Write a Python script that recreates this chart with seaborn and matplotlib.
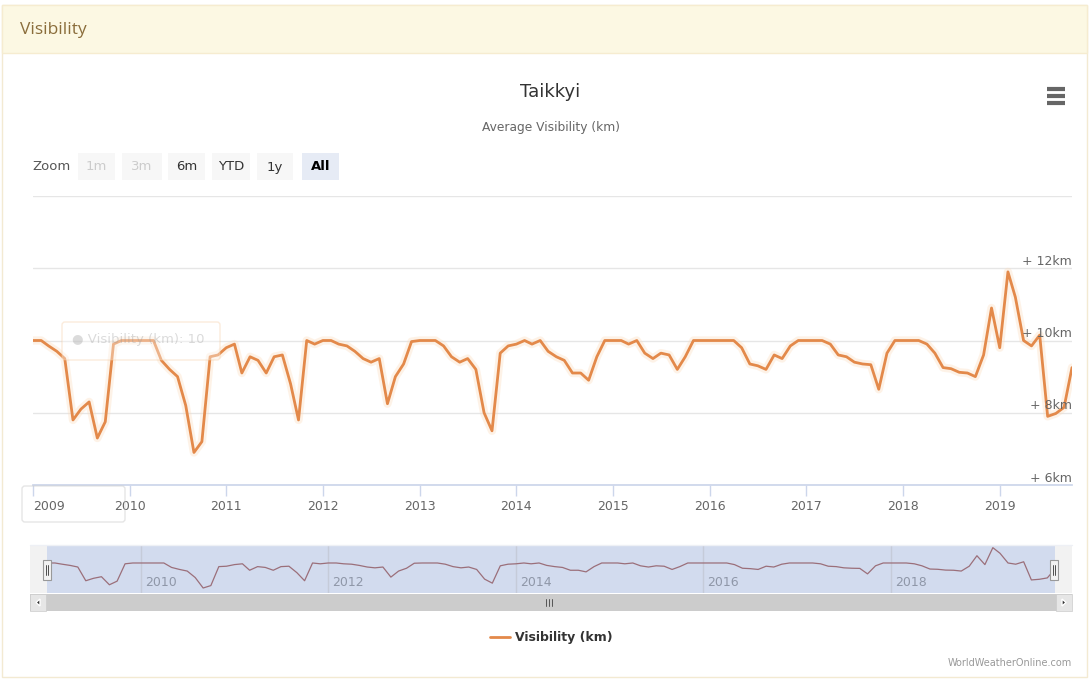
import numpy as np
import pandas as pd
import seaborn as sns
import matplotlib.pyplot as plt
import matplotlib.dates as mdates
from matplotlib.patches import Rectangle, FancyBboxPatch, Polygon

# monthly average visibility (km), Jan 2009 - Oct 2019
visibility = [
    10.0, 10.0, 9.85, 9.7, 9.5, 7.8, 8.1, 8.3, 7.3, 7.75, 9.9, 10.0,     # 2009
    10.0, 10.0, 10.0, 10.0, 9.45, 9.2, 9.0, 8.2, 6.9, 7.2, 9.55, 9.6,    # 2010
    9.8, 9.9, 9.1, 9.55, 9.45, 9.1, 9.55, 9.6, 8.8, 7.8, 10.0, 9.9,      # 2011
    10.0, 10.0, 9.9, 9.85, 9.7, 9.5, 9.4, 9.5, 8.25, 9.0, 9.35, 9.97,    # 2012
    10.0, 10.0, 10.0, 9.85, 9.55, 9.4, 9.5, 9.2, 8.0, 7.5, 9.65, 9.85,   # 2013
    9.9, 10.0, 9.9, 10.0, 9.7, 9.55, 9.45, 9.1, 9.1, 8.9, 9.55, 10.0,    # 2014
    10.0, 10.0, 9.9, 10.0, 9.65, 9.5, 9.65, 9.6, 9.2, 9.55, 10.0, 10.0,  # 2015
    10.0, 10.0, 10.0, 10.0, 9.8, 9.35, 9.3, 9.2, 9.6, 9.5, 9.85, 10.0,   # 2016
    10.0, 10.0, 10.0, 9.9, 9.6, 9.55, 9.4, 9.35, 9.33, 8.65, 9.65, 10.0, # 2017
    10.0, 10.0, 10.0, 9.9, 9.65, 9.25, 9.22, 9.12, 9.1, 9.0, 9.6, 10.9,  # 2018
    9.8, 11.9, 11.2, 10.0, 9.85, 10.15, 7.9, 7.98, 8.15, 9.25,           # 2019
]
months = pd.date_range('2009-01-01', periods=len(visibility), freq='MS')
y_ticks = [6, 8, 10, 12]
y_tick_labels = ['+ 6km', '+ 8km', '+ 10km', '+ 12km']
nav_years = [2010, 2012, 2014, 2016, 2018]
zoom_buttons = ['1m', '3m', '6m', 'YTD', '1y', 'All']

df = pd.DataFrame({'month': months, 'Visibility (km)': visibility})

sns.set_theme(style='white')
plt.rcParams['font.family'] = ['DejaVu Sans']

W, H = 1089, 680
LINE = '#e3894a'
fig = plt.figure(figsize=(W / 100, H / 100), dpi=100)

def fax(l, t, r, b, z=1):
    return fig.add_axes([l / W, 1 - b / H, (r - l) / W, (b - t) / H], zorder=z)

# background layer in pixel coords
bg = fax(0, 0, W, H, z=0)
bg.set_xlim(0, W); bg.set_ylim(H, 0); bg.axis('off')
bg.add_patch(Rectangle((2, 5), W - 4, H - 8, fc='white', ec='#f3ead2', lw=1))
bg.add_patch(Rectangle((2, 5), W - 4, 48, fc='#fcf8e3', ec='#f6ecd0', lw=1))
bg.text(20, 30, 'Visibility', fontsize=12.5, color='#8a6d3b', va='center', family='Open Sans')
bg.text(550, 92, 'Taikkyi', fontsize=13, color='#333333', ha='center', va='center')
bg.text(551, 127, 'Average Visibility (km)', fontsize=8.8, color='#666666', ha='center', va='center')
for yy in [89, 96, 103]:
    bg.plot([1047, 1065], [yy, yy], color='#666666', lw=3, solid_capstyle='butt')

# range selector buttons
bg.text(32, 167, 'Zoom', fontsize=9.5, color='#555555', va='center')
bx = [[78, 115], [122, 162], [168, 205], [212, 250], [257, 293], [302, 339]]
for (x0, x1), lab in zip(bx, zoom_buttons):
    sel = lab == 'All'
    bg.add_patch(Rectangle((x0, 153), x1 - x0, 27, fc='#e6ebf5' if sel else '#f7f7f7', ec='none'))
    col = '#cccccc' if lab in ('1m', '3m') else ('#000000' if sel else '#333333')
    bg.text((x0 + x1) / 2, 167, lab, fontsize=9.5, color=col, ha='center', va='center',
            fontweight='bold' if sel else 'normal')

# main chart
ax = fax(33, 196, 1072, 485, z=2)
ax.set_facecolor('none')
ax.plot(df['month'], df['Visibility (km)'], color='#fcdcbc', lw=6, alpha=0.35, zorder=1)
sns.lineplot(data=df, x='month', y='Visibility (km)', ax=ax, color=LINE, lw=2, zorder=3)
ax.set_xlim(months[0], months[-1])
ax.set_ylim(6, 14)
ax.set_yticks([6, 8, 10, 12, 14])
ax.yaxis.grid(True, color='#e6e6e6', lw=1)
ax.tick_params(axis='y', left=False, labelleft=False)
ax.xaxis.set_major_locator(mdates.YearLocator())
ax.xaxis.set_major_formatter(mdates.DateFormatter('%Y'))
ax.tick_params(axis='x', direction='out', length=8, width=1, color='#ccd6eb',
               labelsize=9, labelcolor='#666666', pad=3, bottom=True)
ax.get_xticklabels()[0].set_ha('left')
for s in ['top', 'left', 'right']:
    ax.spines[s].set_visible(False)
ax.spines['bottom'].set_color('#ccd6eb')
ax.set_xlabel(''); ax.set_ylabel('')
if ax.get_legend():
    ax.get_legend().remove()
for v, lab in zip(y_ticks, y_tick_labels):
    ax.annotate(lab, (1, v), xycoords=('axes fraction', 'data'), xytext=(0, 7),
                textcoords='offset pixels', ha='right', va='center', fontsize=9,
                color='#666666', zorder=4)

# navigator
bg.add_patch(Rectangle((30, 545), 1042, 48, fc='#f2f2f2', ec='none'))
nav = fax(47, 545, 1055, 593, z=2)
nav.set_facecolor('#d2dbee')
nav.plot(df['month'], df['Visibility (km)'], color='#9b6f7a', lw=0.9)
nav.set_xlim(months[0], months[-1])
nav.set_ylim(6.28, 12.23)
nav.set_xticks([pd.Timestamp(f'{y}-01-01') for y in nav_years])
nav.xaxis.grid(True, color='#c5cbd9', lw=1)
nav.tick_params(bottom=False, left=False, labelbottom=False, labelleft=False)
for s in nav.spines.values():
    s.set_visible(False)
for y in nav_years:
    nav.annotate(str(y), (pd.Timestamp(f'{y}-01-01'), 0), xycoords=('data', 'axes fraction'),
                 xytext=(4, 10), textcoords='offset pixels', fontsize=9, color='#8f97a8', va='center')

# overlay: handles, scrollbar, legend, credits, faint tooltip
fg = fax(0, 0, W, H, z=5)
fg.set_xlim(0, W); fg.set_ylim(H, 0); fg.axis('off'); fg.patch.set_alpha(0)
fg.plot([30, 1072], [545, 545], color='#eef0f5', lw=1)
for hx in [47, 1054]:
    fg.add_patch(Rectangle((hx - 4, 560), 8, 20, fc='#f2f2f2', ec='#999999', lw=0.8))
    fg.plot([hx - 1, hx - 1], [565, 575], color='#333333', lw=0.6)
    fg.plot([hx + 1, hx + 1], [565, 575], color='#333333', lw=0.6)
fg.add_patch(Rectangle((30, 594), 1042, 17, fc='#cccccc', ec='none'))
fg.add_patch(Rectangle((30, 594), 16, 17, fc='#e6e6e6', ec='#cccccc', lw=0.5))
fg.add_patch(Rectangle((1056, 594), 16, 17, fc='#e6e6e6', ec='#cccccc', lw=0.5))
fg.add_patch(Polygon([[40, 599], [40, 606], [36, 602.5]], fc='#333333'))
fg.add_patch(Polygon([[1062, 599], [1062, 606], [1066, 602.5]], fc='#333333'))
for gx in [546, 549, 552]:
    fg.plot([gx, gx], [599, 606], color='#555555', lw=0.7)

fg.plot([490, 510], [637, 637], color=LINE, lw=2)
fg.text(515, 637, 'Visibility (km)', fontsize=9, fontweight='bold', color='#333333', va='center')
fg.text(1072, 663, 'WorldWeatherOnline.com', fontsize=7, color='#999999', ha='right', va='center')

fg.add_patch(FancyBboxPatch((62, 322), 158, 38, boxstyle='round,pad=0,rounding_size=3',
                            fc='white', ec='#f4c79a', lw=1, alpha=0.35))
fg.text(72, 340, '\u25cf Visibility (km): 10', fontsize=9.5, color='#999999', alpha=0.35, va='center')
fg.add_patch(FancyBboxPatch((22, 486), 103, 36, boxstyle='round,pad=0,rounding_size=3',
                            fc='none', ec='#cccccc', lw=1, alpha=0.5))

fig.savefig('out.png', dpi=100)
